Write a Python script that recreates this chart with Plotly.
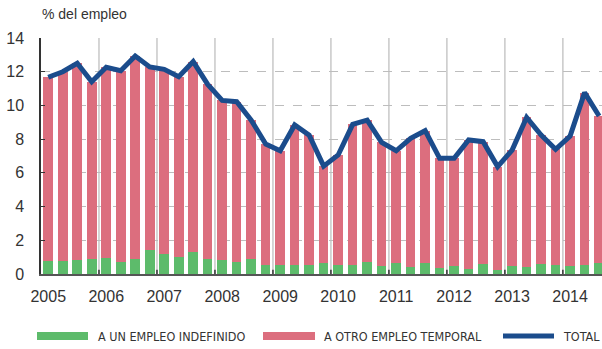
import plotly.graph_objects as go

# Quarterly series, 2005 Q1 - 2014 Q3 (% of employment)
years = [str(y) for y in range(2005, 2015)]
quarters = [f"{y} T{q}" for y in range(2005, 2015) for q in range(1, 5)][:39]

indefinido = [0.77, 0.77, 0.83, 0.87, 0.93, 0.73, 0.89, 1.40, 1.20, 1.01,
              1.30, 0.87, 0.83, 0.73, 0.87, 0.51, 0.55, 0.51, 0.55, 0.67,
              0.53, 0.53, 0.71, 0.49, 0.67, 0.39, 0.67, 0.38, 0.47, 0.32,
              0.57, 0.24, 0.49, 0.41, 0.57, 0.51, 0.49, 0.55, 0.63]

temporal = [10.90, 11.23, 11.67, 10.53, 11.33, 11.33, 12.04, 10.88, 10.94, 10.69,
            11.30, 10.38, 9.47, 9.49, 8.26, 7.20, 6.76, 8.33, 7.69, 5.73,
            6.53, 8.35, 8.42, 7.32, 6.64, 7.66, 7.83, 6.48, 6.39, 7.63,
            7.28, 6.13, 6.86, 8.88, 7.67, 6.89, 7.69, 10.21, 8.74]

total = [11.67, 12.00, 12.50, 11.40, 12.26, 12.06, 12.93, 12.28, 12.14, 11.70,
         12.60, 11.25, 10.30, 10.22, 9.13, 7.71, 7.31, 8.84, 8.24, 6.40,
         7.06, 8.88, 9.13, 7.81, 7.31, 8.05, 8.50, 6.86, 6.86, 7.95,
         7.85, 6.37, 7.35, 9.29, 8.24, 7.40, 8.18, 10.76, 9.37]

y_ticks = [0, 2, 4, 6, 8, 10, 12, 14]

GREEN = "#5dbb6b"
PINK = "#dc6e7e"
NAVY = "#1b4c8c"
TEXT = "#333333"

x = list(range(len(quarters)))

fig = go.Figure()
fig.add_trace(go.Bar(x=x, y=indefinido, name="A UN EMPLEO INDEFINIDO",
                     marker=dict(color=GREEN, line=dict(width=0)), width=0.66))
fig.add_trace(go.Bar(x=x, y=temporal, name="A OTRO EMPLEO TEMPORAL",
                     marker=dict(color=PINK, line=dict(width=0)), width=0.66))
fig.add_trace(go.Scatter(x=x, y=total, name="TOTAL", mode="lines",
                         line=dict(color=NAVY, width=5)))

# Plot-area geometry in pixels, used to place the title and legend
W, H = 602, 349
L, R, T, B = 41, 0, 38, 75
PW, PH = W - L - R, H - T - B


def px_x(p):
    return (p - L) / PW


def px_y(p):
    return (H - B - p) / PH


# Vertical year separators
shapes = []
for k in range(1, len(years)):
    xs = 4 * k - 0.5
    shapes.append(dict(type="line", xref="x", yref="paper", x0=xs, x1=xs, y0=0, y1=1,
                       line=dict(color="#c8c8c8", width=1.5), layer="below"))
    shapes.append(dict(type="line", xref="x", yref="paper", x0=xs, x1=xs, y0=0, y1=0.018,
                       line=dict(color="#333333", width=1.5), layer="above"))

annotations = [dict(text="% del empleo", xref="paper", yref="paper",
                    x=px_x(40), y=px_y(14), xanchor="left", yanchor="middle",
                    showarrow=False, font=dict(size=14, color=TEXT))]

# Legend row drawn with shapes and text
LEG_Y = 336
LEG_FONT = "Liberation Sans Narrow, DejaVu Sans Condensed, Arial Narrow, sans-serif"
legend_items = [
    ("A UN EMPLEO INDEFINIDO", GREEN, 37, 88, 96, 8),
    ("A OTRO EMPLEO TEMPORAL", PINK, 263, 315, 322, 8),
    ("TOTAL", NAVY, 503, 554, 561, 5),
]
for label, col, s0, s1, tx, hgt in legend_items:
    shapes.append(dict(type="rect", xref="paper", yref="paper",
                       x0=px_x(s0), x1=px_x(s1),
                       y0=px_y(LEG_Y + hgt / 2), y1=px_y(LEG_Y - hgt / 2),
                       fillcolor=col, line=dict(width=0)))
    annotations.append(dict(text=label, xref="paper", yref="paper",
                            x=px_x(tx), y=px_y(LEG_Y), xanchor="left", yanchor="middle",
                            showarrow=False,
                            font=dict(size=12.5, color=TEXT, family=LEG_FONT)))

fig.update_layout(
    width=W, height=H,
    margin=dict(l=L, r=R, t=T, b=B),
    barmode="stack",
    bargap=0,
    plot_bgcolor="white", paper_bgcolor="white",
    showlegend=False,
    font=dict(family="Liberation Sans, Arial, sans-serif", color=TEXT, size=15),
    shapes=shapes,
    annotations=annotations,
)

fig.update_xaxes(
    range=[-0.5, 38.2],
    tickmode="array", tickvals=[4 * k for k in range(len(years))], ticktext=years,
    showgrid=False, zeroline=False,
    showline=True, linecolor="#555555", linewidth=2,
    ticks="", ticklabelstandoff=7,
    tickfont=dict(size=16, color=TEXT),
)
fig.update_yaxes(
    range=[0, 14],
    tickmode="array", tickvals=y_ticks,
    showgrid=True, gridcolor="#bdbdbd", griddash="dash", gridwidth=1,
    zeroline=False,
    showline=True, linecolor="#333333", linewidth=1.5,
    ticks="inside", ticklen=4, tickcolor="#333333",
    ticklabelstandoff=12,
    tickfont=dict(size=16, color=TEXT),
)

fig.write_html("out.html")
